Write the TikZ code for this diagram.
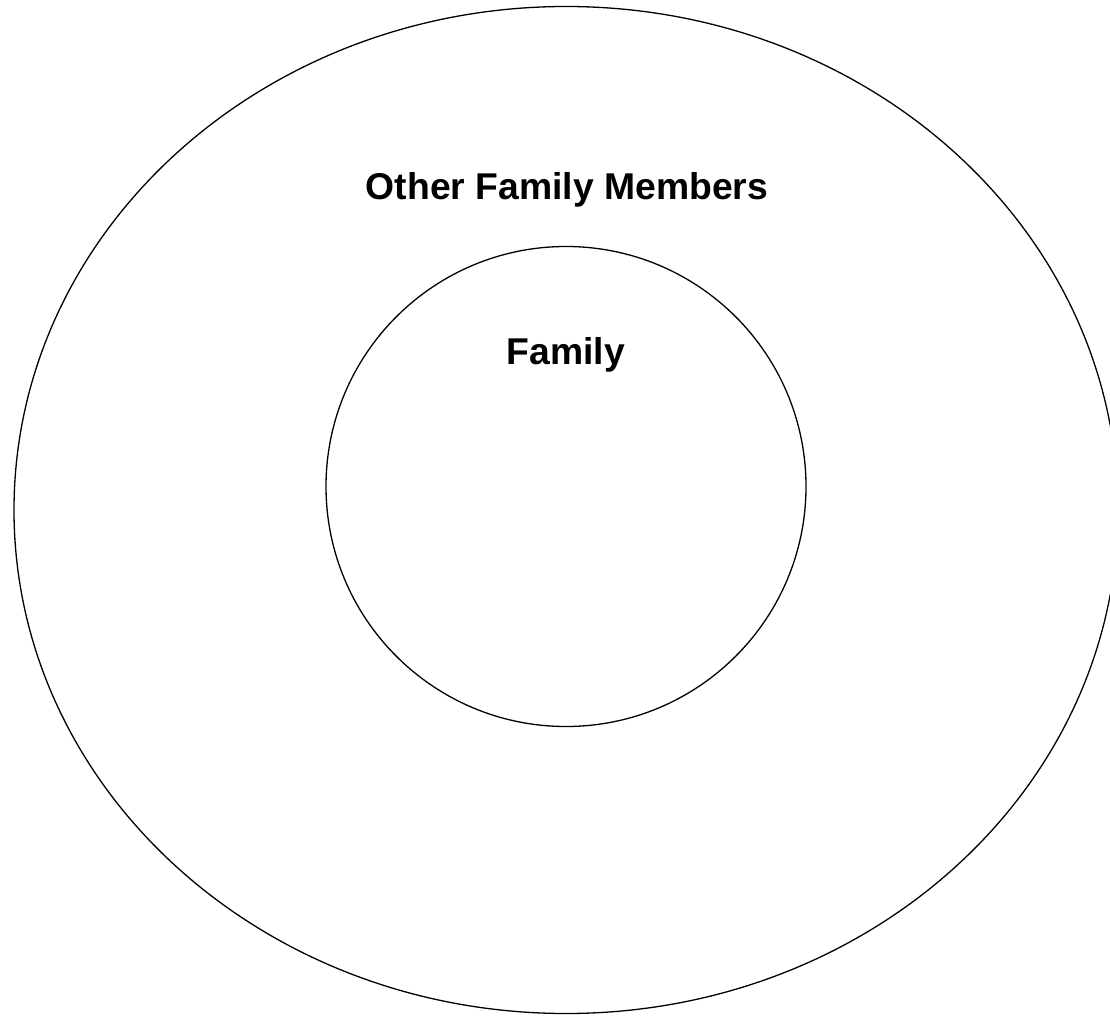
\documentclass[tikz,border=0pt]{standalone}
\usepackage{fontspec}
\setmainfont{Liberation Sans}
\usetikzlibrary{shapes.geometric}

\tikzset{
  ring/.style={draw, line width=1.3pt, inner sep=0pt},
  ringlabel/.style={anchor=base, inner sep=0pt, font=\bfseries\fontsize{37.3}{44}\selectfont}
}

\begin{document}
\begin{tikzpicture}[x=1pt, y=-1pt]
  % fix the page size
  \useasboundingbox (0,0) rectangle (1110,1016);
  % outer ellipse and inner circle
  \node[ring, ellipse, minimum width=1104pt, minimum height=1007pt] (outer) at (566,510) {};
  \node[ring, circle, minimum size=480pt] (inner) at (566,486.5) {};
  % labels
  \node[ringlabel] (outerlabel) at (567,200) {Other Family Members};
  \node[ringlabel] (innerlabel) at (566,364) {Family};
\end{tikzpicture}
\end{document}
